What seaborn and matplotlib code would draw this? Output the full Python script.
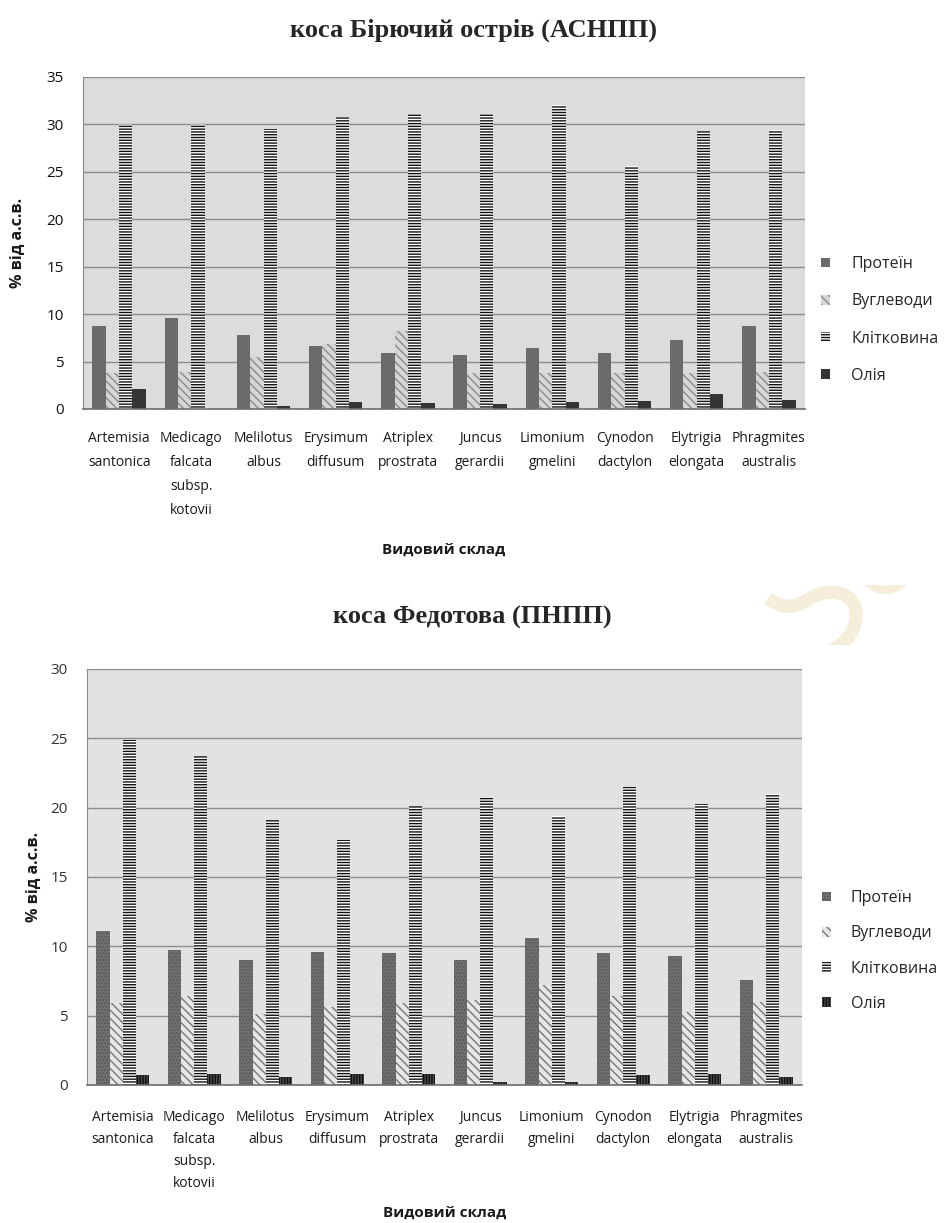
import numpy as np
import pandas as pd
import matplotlib
matplotlib.use("Agg")
import matplotlib.pyplot as plt
from matplotlib.patches import Patch, Rectangle
from matplotlib.path import Path
from matplotlib.patches import PathPatch
import seaborn as sns

# ---- data -------------------------------------------------------------
species = [
    "Artemisia\nsantonica",
    "Medicago\nfalcata\nsubsp.\nkotovii",
    "Melilotus\nalbus",
    "Erysimum\ndiffusum",
    "Atriplex\nprostrata",
    "Juncus\ngerardii",
    "Limonium\ngmelini",
    "Cynodon\ndactylon",
    "Elytrigia\nelongata",
    "Phragmites\naustralis",
]
components = ["Протеїн", "Вуглеводи", "Клітковина", "Олія"]

biryuchyi_protein = [8.8, 9.6, 7.8, 6.6, 5.9, 5.7, 6.4, 5.9, 7.3, 8.8]
biryuchyi_carbs = [3.8, 3.9, 5.5, 6.9, 8.2, 3.8, 3.8, 3.8, 3.8, 3.9]
biryuchyi_fiber = [30.0, 30.0, 29.5, 30.8, 31.1, 31.1, 32.0, 25.6, 29.3, 29.4]
biryuchyi_oil = [2.1, 0.0, 0.3, 0.7, 0.6, 0.5, 0.7, 0.8, 1.6, 1.0]

fedotova_protein = [11.1, 9.7, 9.0, 9.6, 9.5, 9.0, 10.6, 9.5, 9.3, 7.6]
fedotova_carbs = [5.9, 6.4, 5.1, 5.6, 5.9, 6.1, 7.2, 6.4, 5.3, 6.0]
fedotova_fiber = [24.9, 23.7, 19.1, 17.7, 20.1, 20.8, 19.4, 21.5, 20.3, 21.0]
fedotova_oil = [0.7, 0.8, 0.6, 0.8, 0.8, 0.25, 0.25, 0.7, 0.8, 0.6]

title_top = "коса Бірючий острів (АСНПП)"
title_bottom = "коса Федотова (ПНПП)"
ylabel = "% від а.с.в."
xlabel = "Видовий склад"


def long_frame(protein, carbs, fiber, oil):
    rows = []
    for comp, vals in zip(components, [protein, carbs, fiber, oil]):
        for sp, v in zip(species, vals):
            rows.append({"species": sp, "component": comp, "value": v})
    return pd.DataFrame(rows)


df_top = long_frame(biryuchyi_protein, biryuchyi_carbs, biryuchyi_fiber, biryuchyi_oil)
df_bot = long_frame(fedotova_protein, fedotova_carbs, fedotova_fiber, fedotova_oil)

# ---- styling ---------------------------------------------------------
sns.set_style("white")
plt.rcParams["font.family"] = ["Open Sans", "DejaVu Sans"]
plt.rcParams["hatch.linewidth"] = 1.0

top_styles = {
    "Протеїн": dict(face="#6b6b6b", edge="#5e5e5e", hatch=""),
    "Вуглеводи": dict(face="#d6d6d6", edge="#8a8a8a", hatch="\\\\\\\\"),
    "Клітковина": dict(face="#ffffff", edge="#111111", hatch="------"),
    "Олія": dict(face="#353535", edge="#2a2a2a", hatch=""),
}
bot_styles = {
    "Протеїн": dict(face="#707070", edge="#5a5a5a", hatch="....."),
    "Вуглеводи": dict(face="#e6e6e6", edge="#777777", hatch="\\\\\\\\"),
    "Клітковина": dict(face="#ffffff", edge="#111111", hatch="------"),
    "Олія": dict(face="#4a4a4a", edge="#111111", hatch="||||||"),
}


def draw_panel(ax, df, styles, ymax, bg, tick_color, xtick_pad, linespacing):
    palette = {c: styles[c]["face"] for c in components}
    sns.barplot(data=df, x="species", y="value", hue="component",
                hue_order=components, order=species, palette=palette,
                width=0.74, saturation=1, errorbar=None, legend=False, ax=ax)
    for comp, cont in zip(components, ax.containers):
        st = styles[comp]
        for bar in cont:
            bar.set_facecolor(st["face"])
            bar.set_edgecolor(st["edge"])
            bar.set_hatch(st["hatch"])
            bar.set_linewidth(0)
    ax.set_facecolor(bg)
    ax.set_xlim(-0.5, len(species) - 0.5)
    ax.set_ylim(0, ymax)
    ax.set_yticks(np.arange(0, ymax + 1, 5))
    ax.yaxis.grid(True, color="#8c8c8c", linewidth=1.0)
    ax.set_axisbelow(True)
    for side in ["top", "right"]:
        ax.spines[side].set_visible(False)
    ax.spines["left"].set_color("#8c8c8c")
    ax.spines["bottom"].set_color("#6e6e6e")
    ax.spines["bottom"].set_linewidth(1.2)
    ax.tick_params(axis="y", length=6, color="#8c8c8c", labelsize=11,
                   labelcolor=tick_color, pad=8)
    ax.tick_params(axis="x", length=0, labelsize=10, labelcolor="#1a1a1a",
                   pad=xtick_pad)
    for lab in ax.get_xticklabels():
        lab.set_linespacing(linespacing)
    ax.set_ylabel(ylabel, fontsize=11.5, fontweight="bold", color="#1a1a1a")
    ax.set_xlabel(xlabel, fontsize=11, fontweight="bold", color="#1a1a1a")


def add_legend(ax, styles, anchor, spacing, textpad):
    handles = [Patch(facecolor=styles[c]["face"], edgecolor=styles[c]["edge"],
                     hatch=styles[c]["hatch"], linewidth=0, label=c)
               for c in components]
    ax.legend(handles=handles, loc="center left", bbox_to_anchor=anchor,
              bbox_transform=ax.figure.transFigure, frameon=False,
              fontsize=11.5, handlelength=0.55, handleheight=0.55,
              handletextpad=textpad, labelspacing=spacing, borderpad=0,
              borderaxespad=0)


W, H = 946, 1223
fig = plt.figure(figsize=(W / 100, H / 100), dpi=100)

ax1 = fig.add_axes([83 / W, 1 - 409 / H, (805 - 83) / W, (409 - 77) / H])
draw_panel(ax1, df_top, top_styles, 35, "#dcdcdc", "#111111", 16, 1.8)
ax1.yaxis.set_label_coords(-0.079, 0.5)
ax1.xaxis.set_label_coords(0.5, -0.402)
add_legend(ax1, top_styles, (821 / W, 1 - 320 / H), 1.33, 1.35)

ax2 = fig.add_axes([87 / W, 1 - 1085 / H, (802 - 87) / W, (1085 - 669) / H])
draw_panel(ax2, df_bot, bot_styles, 30, "#e2e2e2", "#333333", 18, 1.63)
ax2.yaxis.set_label_coords(-0.063, 0.5)
ax2.xaxis.set_label_coords(0.5, -0.29)
add_legend(ax2, bot_styles, (822 / W, 1 - 951 / H), 1.2, 1.25)

serif = ["Liberation Serif", "DejaVu Serif"]
fig.text(473 / W, 1 - 30 / H, title_top, ha="center", va="center",
         fontsize=19, fontweight="bold", family=serif)
fig.text(472 / W, 1 - 617 / H, title_bottom, ha="center", va="center",
         fontsize=19, fontweight="bold", family=serif)

# faint swirl ornament between the panels, drawn in figure pixel space
deco = fig.add_axes([0, 0, 1, 1], zorder=-1)
deco.set_xlim(0, W)
deco.set_ylim(H, 0)
deco.axis("off")
clip = Rectangle((760, 585), 186, 60, transform=deco.transData,
                 facecolor="none", edgecolor="none")
deco.add_patch(clip)
swirl = Path(
    [(768, 598), (785, 612), (798, 606), (812, 597),
     (835, 586), (858, 594), (856, 618),
     (854, 636), (842, 645), (828, 652)],
    [Path.MOVETO, Path.CURVE4, Path.CURVE4, Path.CURVE4,
     Path.CURVE4, Path.CURVE4, Path.CURVE4,
     Path.CURVE4, Path.CURVE4, Path.CURVE4],
)
sp = PathPatch(swirl, facecolor="none", edgecolor="#f4eedb", linewidth=9.5,
               capstyle="butt")
deco.add_patch(sp)
sp.set_clip_path(clip)
ring = PathPatch(Path.circle((886, 566), 24), facecolor="none",
                 edgecolor="#f4eedb", linewidth=6)
deco.add_patch(ring)
ring.set_clip_path(clip)

fig.savefig("out.png", dpi=100, facecolor="white")
